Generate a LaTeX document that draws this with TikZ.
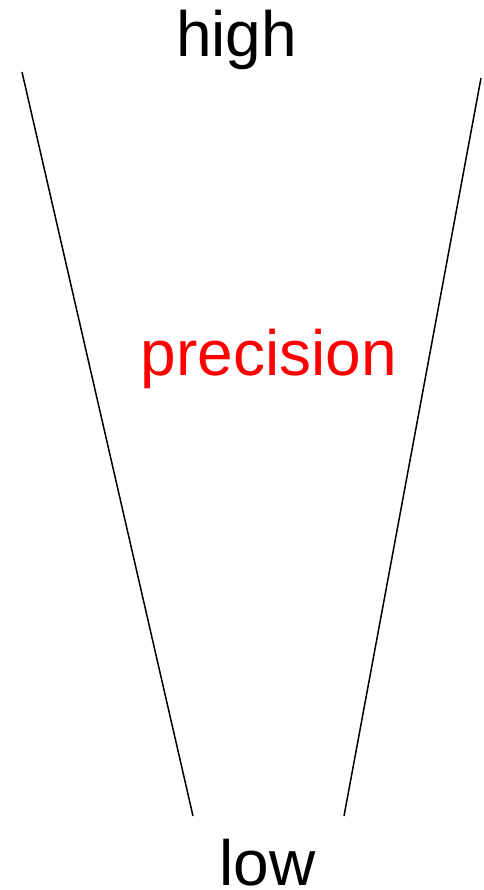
\documentclass[tikz,border=0pt]{standalone}
\usepackage{fontspec}
\setmainfont{Liberation Sans}
\begin{document}
\begin{tikzpicture}[x=1pt,y=-1pt,
  lbl/.style={anchor=base,inner sep=0pt,font=\fontsize{64}{77}\selectfont},
  edge/.style={line width=1.5pt,black}]
\useasboundingbox (0,0) rectangle (483,890);
\coordinate (lt) at (22,72);
\coordinate (lb) at (193,816);
\coordinate (rt) at (481,78);
\coordinate (rb) at (344,816);
\draw[edge] (lt) -- (lb);
\draw[edge] (rt) -- (rb);
\node[lbl] (high) at (236.5,57) {high};
\node[lbl,text=red] (prec) at (269,375) {precision};
\node[lbl] (low) at (267.5,885) {low};
\end{tikzpicture}
\end{document}
